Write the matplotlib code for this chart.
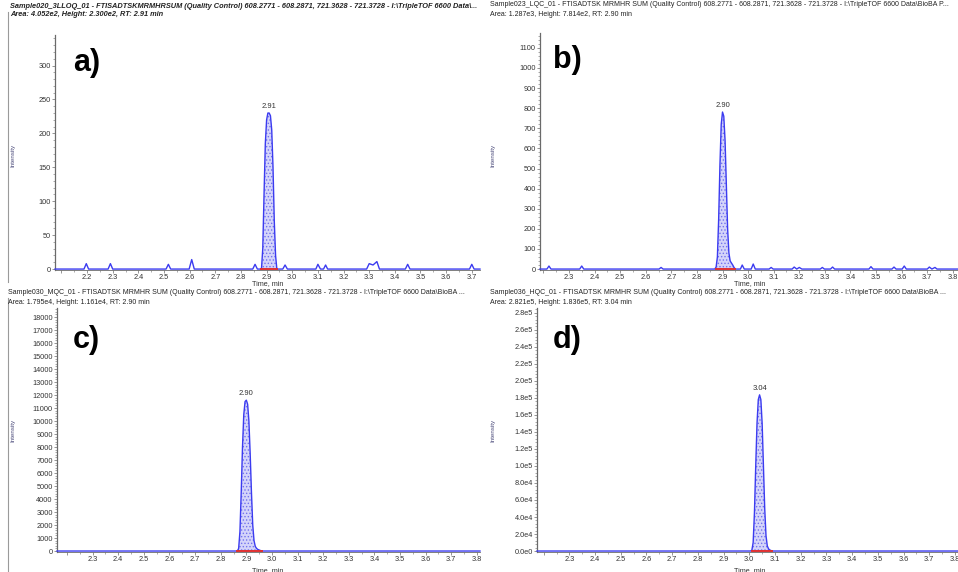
import matplotlib
matplotlib.use('Agg')
import matplotlib.pyplot as plt
from matplotlib.ticker import MultipleLocator, AutoMinorLocator, FuncFormatter

plt.rcParams['font.family'] = ['Liberation Sans', 'DejaVu Sans']
plt.rcParams['hatch.linewidth'] = 0.6

W, H = 958, 572

# ---------------- data ----------------
# a) LLOQ
a_time = [2.075, 2.188, 2.197, 2.206, 2.282, 2.291, 2.300, 2.508, 2.517, 2.526,
          2.598, 2.608, 2.618, 2.846, 2.855, 2.864, 2.880, 2.885, 2.890, 2.895,
          2.900, 2.905, 2.910, 2.915, 2.920, 2.925, 2.930, 2.935, 2.940, 2.963,
          2.972, 2.981, 3.092, 3.100, 3.110, 3.122, 3.130, 3.138, 3.290, 3.300,
          3.315, 3.330, 3.340, 3.441, 3.450, 3.459, 3.691, 3.700, 3.709, 3.732]
a_int = [0, 0, 8, 0, 0, 8, 0, 0, 7, 0,
         0, 14, 0, 0, 7, 0, 0, 30, 110, 185,
         220, 230, 230, 226, 205, 150, 70, 20, 0, 0,
         6, 0, 0, 7, 0, 0, 6, 0, 0, 8,
         6, 11, 0, 0, 7, 0, 0, 7, 0, 0]
a_peak = (2.880, 2.940)
a_rt, a_height = 2.91, 230

# b) LQC
b_time = [2.187, 2.214, 2.222, 2.230, 2.342, 2.350, 2.358, 2.652, 2.660, 2.668,
          2.870, 2.875, 2.880, 2.885, 2.890, 2.895, 2.900, 2.905, 2.910, 2.915,
          2.920, 2.925, 2.930, 2.935, 2.940, 2.945, 2.950, 2.970, 2.977, 2.985,
          3.012, 3.020, 3.028, 3.082, 3.090, 3.098, 3.172, 3.180, 3.190, 3.200,
          3.210, 3.218, 3.282, 3.290, 3.298, 3.322, 3.330, 3.338, 3.472, 3.480,
          3.488, 3.562, 3.570, 3.578, 3.602, 3.610, 3.618, 3.700, 3.708, 3.718,
          3.730, 3.738, 3.820]
b_int = [0, 0, 15, 0, 0, 15, 0, 0, 8, 0,
         0, 10, 60, 250, 520, 720, 781, 760, 640, 420,
         200, 80, 40, 30, 20, 8, 0, 0, 20, 0,
         0, 25, 0, 0, 8, 0, 0, 10, 0, 8,
         0, 0, 0, 8, 0, 0, 10, 0, 0, 12,
         0, 0, 10, 0, 0, 15, 0, 0, 10, 0,
         8, 0, 0]
b_peak = (2.875, 2.950)
b_rt, b_height = 2.90, 781.4

# c) MQC
c_time = [2.161, 2.865, 2.870, 2.875, 2.880, 2.885, 2.890, 2.895, 2.900, 2.905,
          2.910, 2.915, 2.920, 2.925, 2.930, 2.935, 2.940, 2.945, 2.950, 2.955,
          2.960, 3.812]
c_int = [0, 0, 200, 1500, 4500, 8000, 10500, 11500, 11610, 11300,
         10000, 7500, 4500, 2000, 800, 350, 200, 120, 80, 40,
         0, 0]
c_peak = (2.865, 2.960)
c_rt, c_height = 2.90, 11610

# d) HQC
d_time = [2.174, 3.005, 3.010, 3.015, 3.020, 3.025, 3.030, 3.035, 3.040, 3.045,
          3.050, 3.055, 3.060, 3.065, 3.070, 3.075, 3.080, 3.085, 3.090, 3.812]
d_int = [0, 0, 1000, 10000, 45000, 100000, 150000, 178000, 183600, 178000,
         150000, 100000, 50000, 18000, 6000, 2500, 1200, 500, 0, 0]
d_peak = (3.010, 3.090)
d_rt, d_height = 3.04, 183600

titles = [
    ("Sample020_3LLOQ_01 - FTISADTSKMRMHRSUM (Quality Control) 608.2771 - 608.2871, 721.3628 - 721.3728 - I:\\TripleTOF 6600 Data\\...",
     "Area: 4.052e2, Height: 2.300e2, RT: 2.91 min"),
    ("Sample023_LQC_01 - FTISADTSK MRMHR SUM (Quality Control) 608.2771 - 608.2871, 721.3628 - 721.3728 - I:\\TripleTOF 6600 Data\\BioBA P...",
     "Area: 1.287e3, Height: 7.814e2, RT: 2.90 min"),
    ("Sample030_MQC_01 - FTISADTSK MRMHR SUM (Quality Control) 608.2771 - 608.2871, 721.3628 - 721.3728 - I:\\TripleTOF 6600 Data\\BioBA ...",
     "Area: 1.795e4, Height: 1.161e4, RT: 2.90 min"),
    ("Sample036_HQC_01 - FTISADTSK MRMHR SUM (Quality Control) 608.2771 - 608.2871, 721.3628 - 721.3728 - I:\\TripleTOF 6600 Data\\BioBA ...",
     "Area: 2.821e5, Height: 1.836e5, RT: 3.04 min"),
]
letters = ['a)', 'b)', 'c)', 'd)']


def sci_fmt(v, pos):
    m, e = f"{v:.1e}".split("e")
    return f"{m}e{int(e)}"


fig = plt.figure(figsize=(W / 100, H / 100), dpi=100)


def px(x, y):
    return x / W, 1 - y / H


def add_axes(l, t, r, b):
    return fig.add_axes([l / W, 1 - b / H, (r - l) / W, (b - t) / H])


trace_col = '#3b3bf0'
fill_col = '#d4d4fa'
hatch_col = '#7272ee'
txt_col = '#333333'
spine_col = '#6a6a6a'


def draw_panel(ax, t, y, peak, rt, height, xlim, ytop, ystep, xfirst, yfmt=None):
    ax.set_xlim(*xlim)
    ax.set_ylim(-ytop * 0.004, ytop)
    inside = [p for p in zip(t, y) if peak[0] <= p[0] <= peak[1]]
    ft = [p[0] for p in inside]
    fy = [p[1] for p in inside]
    ax.fill_between(ft, 0, fy, facecolor=fill_col, edgecolor=hatch_col,
                    hatch='.....', linewidth=0, zorder=2)
    ax.plot(t, y, color=trace_col, lw=1.0, zorder=3, clip_on=False)
    ax.plot(peak, [0, 0], color='#e03030', lw=1.4, zorder=4, clip_on=False)
    ax.annotate(f"{rt:.2f}", xy=(rt, height), xytext=(0, 2), textcoords='offset points',
                ha='center', va='bottom', fontsize=5.5, color=txt_col)

    ax.xaxis.set_major_locator(MultipleLocator(0.1))
    ax.xaxis.set_minor_locator(MultipleLocator(0.05))
    ax.xaxis.set_major_formatter(FuncFormatter(lambda v, p: f"{v:.1f}" if v >= xfirst - 1e-6 else ""))
    ax.yaxis.set_major_locator(MultipleLocator(ystep))
    ax.yaxis.set_minor_locator(AutoMinorLocator(5))
    if yfmt is not None:
        ax.yaxis.set_major_formatter(FuncFormatter(yfmt))
    ax.tick_params(which='major', length=2.0, width=0.5, colors=spine_col,
                   labelsize=5.3, labelcolor=txt_col, pad=1.0)
    ax.tick_params(which='minor', length=1.2, width=0.4, colors=spine_col)
    for s in ['top', 'right']:
        ax.spines[s].set_visible(False)
    ax.spines['left'].set_color(spine_col)
    ax.spines['left'].set_linewidth(0.9)
    ax.spines['bottom'].set_color(spine_col)
    ax.spines['bottom'].set_linewidth(0.6)
    ax.set_facecolor('none')


# axes boxes in pixels: left, top, right, bottom
ax_a = add_axes(55, 35, 480, 270)
ax_b = add_axes(540, 33, 958, 270)
ax_c = add_axes(57, 308, 480, 552)
ax_d = add_axes(537, 308, 958, 552)

draw_panel(ax_a, a_time, a_int, a_peak, a_rt, a_height, (2.075, 3.732), 345, 50, 2.2)
draw_panel(ax_b, b_time, b_int, b_peak, b_rt, b_height, (2.187, 3.82), 1174, 100, 2.3)
draw_panel(ax_c, c_time, c_int, c_peak, c_rt, c_height, (2.161, 3.812), 18700, 1000, 2.3)
draw_panel(ax_d, d_time, d_int, d_peak, d_rt, d_height, (2.174, 3.812), 285700, 20000, 2.3,
           yfmt=sci_fmt)

# titles
title_pos = [(10, 6, 15), (490, 5, 15), (8, 293, 302), (490, 293, 302)]
for i, ((l1, l2), (x, y1, y2)) in enumerate(zip(titles, title_pos)):
    style = 'italic' if i == 0 else 'normal'
    weight = 'bold' if i == 0 else 'normal'
    fs = 5.3 if i == 0 else 5.05
    fig.text(*px(x, y1), l1, fontsize=fs, ha='left', va='center', color='#222222',
             style=style, weight=weight)
    fig.text(*px(x, y2), l2, fontsize=fs, ha='left', va='center', color='#222222',
             style=style, weight=weight)

# panel letters
for (x, y), s in zip([(73, 63), (553, 60), (73, 340), (553, 340)], letters):
    fig.text(*px(x, y), s, fontsize=22, weight='bold', ha='left', va='center', color='black')

# y labels
for x, y in [(13, 155), (493, 155), (13, 430), (493, 430)]:
    fig.text(*px(x, y), 'Intensity', fontsize=4.5, rotation=90, ha='center', va='center',
             color='#4a4a7a')

# x labels
for x, y in [(268, 284), (750, 284), (268, 571), (750, 571)]:
    fig.text(*px(x, y), 'Time, min', fontsize=5.2, ha='center', va='center', color=txt_col)

# left frame lines of the left panels
fig.add_artist(plt.Line2D([8 / W, 8 / W], [1 - 12 / H, 1 - 282 / H], color='#9a9a9a', lw=0.8))
fig.add_artist(plt.Line2D([8 / W, 8 / W], [1 - 298 / H, 0], color='#9a9a9a', lw=0.8))

fig.savefig('out.png', dpi=100)
